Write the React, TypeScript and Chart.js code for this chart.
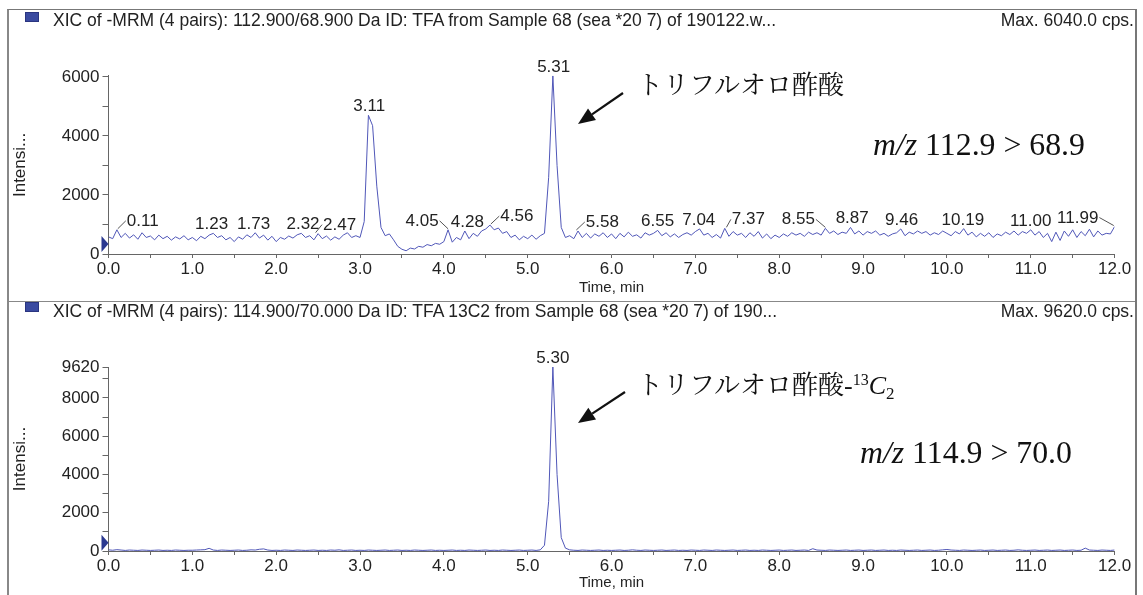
import React, { useEffect, useRef } from "react";
import { Chart, registerables } from "chart.js";

Chart.register(...registerables);

// ---------------- data ----------------
const TIME_STEP = 0.05; // min between acquired points
const X_MIN = 0;
const X_MAX = 12;

// TFA, m/z 112.9 > 68.9 (0.00 ... 12.00 min)
const tfaIntensity: number[] = [
  580, 520, 820, 560, 700, 540, 650, 500, 720, 560, 610, 480, 640, 520, 600, 470, 580, 510, 620, 480,
  560, 450, 600, 520, 640, 700, 560, 620, 480, 560, 420, 580, 500, 650, 560, 720, 540, 640, 470, 600,
  420, 560, 500, 610, 540, 650, 700, 560, 620, 480, 690, 520, 610, 470, 580, 500, 640, 720, 560, 620,
  560, 1100, 4700, 4350, 2300, 900, 620, 680, 480, 260, 160, 110, 200, 170, 260, 230, 320, 280, 360, 330,
  420, 820, 400, 560, 480, 780, 520, 700, 600, 780, 850, 980, 820, 880, 700, 760, 560, 640, 480, 600,
  520, 640, 500, 620, 700, 2600, 6040, 3000, 900, 560, 620, 520, 780, 560, 700, 540, 680, 600, 720, 560,
  680, 520, 700, 580, 740, 600, 650, 540, 720, 640, 700, 800, 620, 720, 580, 680, 560, 660, 720, 640,
  760, 850, 640, 700, 560, 660, 540, 870, 600, 760, 640, 700, 560, 720, 600, 760, 540, 680, 520, 640,
  560, 680, 600, 720, 640, 700, 600, 740, 660, 720, 640, 870, 700, 780, 660, 740, 700, 900, 680, 780,
  640, 760, 700, 780, 640, 700, 600, 680, 720, 850, 620, 740, 680, 780, 700, 760, 640, 720, 660, 780,
  700, 620, 760, 680, 860, 640, 740, 580, 700, 600, 720, 560, 680, 620, 740, 660, 780, 640, 760, 700,
  820, 640, 760, 560, 700, 420, 740, 460, 780, 600, 820, 560, 760, 620, 840, 580, 780, 640, 700, 680, 930,
];

// TFA 13C2, m/z 114.9 > 70.0 (0.00 ... 12.00 min)
const tfa13cIntensity: number[] = [
  60, 40, 70, 50, 30, 50, 40, 30, 50, 40, 30, 40, 50, 30, 40, 30, 50, 40, 30, 40,
  40, 50, 60, 70, 140, 50, 30, 50, 40, 30, 40, 50, 30, 40, 60, 50, 90, 110, 50, 30,
  40, 30, 50, 40, 30, 50, 40, 30, 40, 50, 30, 40, 30, 50, 40, 60, 30, 40, 50, 30,
  40, 30, 50, 40, 30, 40, 50, 30, 40, 50, 30, 40, 30, 50, 40, 30, 40, 50, 30, 40,
  30, 40, 50, 30, 40, 30, 50, 40, 30, 40, 50, 30, 40, 30, 50, 40, 30, 40, 50, 30,
  40, 50, 30, 60, 300, 2600, 9620, 4000, 700, 150, 60, 40, 30, 50, 40, 30, 40, 50, 30, 40,
  30, 40, 50, 30, 40, 60, 40, 30, 50, 40, 30, 40, 50, 30, 40, 50, 30, 40, 30, 50,
  40, 30, 50, 40, 30, 50, 40, 30, 40, 50, 30, 40, 50, 30, 40, 30, 50, 40, 30, 40,
  50, 30, 40, 50, 30, 40, 50, 30, 120, 50, 40, 30, 50, 40, 30, 40, 50, 30, 40, 50,
  30, 40, 50, 30, 40, 50, 30, 40, 30, 50, 40, 30, 40, 50, 30, 40, 50, 30, 40, 60,
  80, 50, 40, 30, 50, 40, 30, 40, 50, 30, 40, 50, 30, 40, 50, 30, 40, 60, 40, 30,
  40, 50, 30, 40, 50, 30, 40, 50, 30, 40, 50, 30, 40, 150, 50, 40, 30, 50, 40, 30, 50,
];

const tfaPeakTimes = [0.11, 1.23, 1.73, 2.32, 2.47, 3.11, 4.05, 4.28, 4.56, 5.31, 5.58, 6.55, 7.04, 7.37, 8.55, 8.87, 9.46, 10.19, 11.0, 11.99];
const tfa13cPeakTimes = [5.3];

const tfaYTicks = [0, 1000, 2000, 3000, 4000, 5000, 6000];
const tfaYLabels = [0, 2000, 4000, 6000];
const tfaYMax = 6040;
const tfa13cYTicks = [0, 1000, 2000, 3000, 4000, 5000, 6000, 7000, 8000, 9000, 9620];
const tfa13cYLabels = [0, 2000, 4000, 6000, 8000, 9620];
const tfa13cYMax = 9620;

const tfaMarkerValue = 340;
const tfa13cMarkerValue = 435;

// ---------------- styling ----------------
const FONT = '"Liberation Sans", Arial, Helvetica, sans-serif';
const SERIF = '"Liberation Serif", "Times New Roman", serif';
const CJK = '"Noto Serif CJK JP", "Noto Sans CJK JP", serif';
const TEXT = "#222";
const AXIS = "#666";
const LINE = "#5057b8";
const MARK = "#2b3990";

const CANVAS_LEFT = 8;
const CANVAS_W = 1127;
const AREA_LEFT = 100.5;
const AREA_RIGHT = 1106.6;

// horizontal offsets of labels that carry a leader line
const labelShift: Record<string, number> = {
  "0.11": 25, "2.47": 24, "4.05": -26, "4.56": 26, "5.58": 26, "7.37": 22, "8.55": -27, "11.99": -36,
};

Chart.defaults.font.family = FONT;

type PanelProps = {
  values: number[];
  yMax: number;
  yTicks: number[];
  yLabels: number[];
  peakTimes: number[];
  markerValue: number;
  canvasTop: number;
  canvasHeight: number;
  areaTop: number;
  areaBottom: number;
  titlePadBottom: number;
};

function Chromatogram(p: PanelProps) {
  const ref = useRef<HTMLCanvasElement>(null);
  useEffect(() => {
    const canvas = ref.current!;
    const points = p.values.map((v, i) => ({ x: i * TIME_STEP, y: v }));
    const labelPlugin = {
      id: "peakLabels",
      afterDatasetsDraw(chart: any) {
        const { ctx, chartArea } = chart;
        const xs = chart.scales.x;
        const ys = chart.scales.y;
        ctx.save();
        ctx.font = `17px ${FONT}`;
        ctx.fillStyle = TEXT;
        ctx.strokeStyle = "#555";
        ctx.lineWidth = 1;
        ctx.textAlign = "center";
        ctx.textBaseline = "alphabetic";
        for (const t of p.peakTimes) {
          const lo = Math.max(0, Math.floor(t / TIME_STEP + 1e-6));
          const hi = Math.min(p.values.length - 1, Math.ceil(t / TIME_STEP - 1e-6));
          const v = Math.max(p.values[lo], p.values[hi]);
          const px = xs.getPixelForValue(t);
          const py = ys.getPixelForValue(v);
          const text = t.toFixed(2);
          const dx = labelShift[text] || 0;
          const cx = px + dx;
          const by = py - 4;
          ctx.fillText(text, cx, by);
          if (dx) {
            const w = ctx.measureText(text).width;
            const ex = dx > 0 ? cx - w / 2 - 1 : cx + w / 2 + 1;
            ctx.beginPath();
            ctx.moveTo(px, py - 1);
            ctx.lineTo(ex, by - 5);
            ctx.stroke();
          }
        }
        // baseline marker triangle on the y axis
        const ty = ys.getPixelForValue(p.markerValue);
        const tx = chartArea.left;
        ctx.fillStyle = MARK;
        ctx.beginPath();
        ctx.moveTo(tx, ty);
        ctx.lineTo(tx - 7, ty - 8);
        ctx.lineTo(tx - 7, ty + 8);
        ctx.closePath();
        ctx.fill();
        ctx.restore();
      },
    };

    const chart = new Chart(canvas, {
      type: "line",
      data: {
        datasets: [
          {
            data: points,
            borderColor: LINE,
            borderWidth: 1,
            pointRadius: 0,
            tension: 0,
            fill: false,
          },
        ],
      },
      options: {
        animation: false,
        responsive: false,
        devicePixelRatio: 1,
        layout: { padding: { left: 0, right: CANVAS_W - AREA_RIGHT, top: p.areaTop, bottom: 0 } },
        plugins: { legend: { display: false }, tooltip: { enabled: false }, title: { display: false } },
        scales: {
          x: {
            type: "linear",
            min: X_MIN,
            max: X_MAX,
            afterFit: (s: any) => {
              s.height = p.canvasHeight - p.areaBottom;
            },
            ticks: {
              stepSize: 0.5,
              autoSkip: false,
              maxRotation: 0,
              padding: 1,
              color: TEXT,
              font: { size: 17 },
              callback: (v: any) => (Math.abs(v - Math.round(v)) < 1e-6 ? Number(v).toFixed(1) : ""),
            },
            grid: { drawOnChartArea: false, drawTicks: true, tickLength: 4, color: AXIS },
            border: { display: true, color: AXIS, width: 1 },
            title: {
              display: true,
              text: "Time, min",
              color: TEXT,
              font: { size: 15 },
              padding: { top: 0, bottom: p.titlePadBottom },
            },
          },
          y: {
            type: "linear",
            min: 0,
            max: p.yMax,
            afterBuildTicks: (s: any) => {
              s.ticks = p.yTicks.map((v) => ({ value: v }));
            },
            afterFit: (s: any) => {
              s.width = AREA_LEFT;
            },
            ticks: {
              autoSkip: false,
              padding: 3,
              color: TEXT,
              font: { size: 17 },
              callback: (v: any) => (p.yLabels.includes(Number(v)) ? String(v) : ""),
            },
            grid: { drawOnChartArea: false, drawTicks: true, tickLength: 6, color: AXIS },
            border: { display: true, color: AXIS, width: 1 },
            title: {
              display: true,
              text: "Intensi...",
              color: TEXT,
              font: { size: 17 },
              padding: { top: 1.8, bottom: 0 },
            },
          },
        },
      },
      plugins: [labelPlugin],
    } as any);
    return () => chart.destroy();
  }, []);
  return (
    <canvas
      ref={ref}
      width={CANVAS_W}
      height={p.canvasHeight}
      style={{ position: "absolute", left: CANVAS_LEFT, top: p.canvasTop, width: CANVAS_W, height: p.canvasHeight }}
    />
  );
}

function Arrow({ x1, y1, x2, y2 }: { x1: number; y1: number; x2: number; y2: number }) {
  const dx = x2 - x1;
  const dy = y2 - y1;
  const len = Math.hypot(dx, dy);
  const ux = dx / len;
  const uy = dy / len;
  const head = 17;
  const half = 7;
  const bx = x2 - ux * head;
  const by = y2 - uy * head;
  const pts = `${x2},${y2} ${bx - uy * half},${by + ux * half} ${bx + uy * half},${by - ux * half}`;
  return (
    <g>
      <line x1={x1} y1={y1} x2={bx} y2={by} stroke="#111" strokeWidth={2.2} />
      <polygon points={pts} fill="#111" />
    </g>
  );
}

const headerStyle: React.CSSProperties = {
  position: "absolute",
  font: `17.5px ${FONT}`,
  color: TEXT,
  lineHeight: "20px",
  whiteSpace: "nowrap",
};

export default function App() {
  return (
    <div
      style={{
        position: "fixed",
        left: 0,
        top: 0,
        width: 1143,
        height: 595,
        background: "#fff",
        overflow: "hidden",
      }}
    >
      {/* panel frames */}
      <div style={{ position: "absolute", left: 7, top: 9, width: 1130, height: 293, boxSizing: "border-box", borderTop: "1px solid #777", borderLeft: "2px solid #888", borderRight: "2px solid #777", borderBottom: "1px solid #888" }} />
      <div style={{ position: "absolute", left: 7, top: 301, width: 1130, height: 300, boxSizing: "border-box", borderLeft: "2px solid #888", borderRight: "2px solid #777" }} />

      <Chromatogram
        values={tfaIntensity}
        yMax={tfaYMax}
        yTicks={tfaYTicks}
        yLabels={tfaYLabels}
        peakTimes={tfaPeakTimes}
        markerValue={tfaMarkerValue}
        canvasTop={9}
        canvasHeight={292}
        areaTop={66.8}
        areaBottom={245}
        titlePadBottom={4}
      />
      <Chromatogram
        values={tfa13cIntensity}
        yMax={tfa13cYMax}
        yTicks={tfa13cYTicks}
        yLabels={tfa13cYLabels}
        peakTimes={tfa13cPeakTimes}
        markerValue={tfa13cMarkerValue}
        canvasTop={302}
        canvasHeight={293}
        areaTop={65}
        areaBottom={249}
        titlePadBottom={3}
      />

      {/* headers */}
      <div style={{ position: "absolute", left: 25, top: 12, width: 14, height: 10, background: "#3a4aa0", boxSizing: "border-box", border: "1px solid #2a3580" }} />
      <div style={{ ...headerStyle, left: 53, top: 10 }}>
        XIC of -MRM (4 pairs): 112.900/68.900 Da ID: TFA from Sample 68 (sea *20 7) of 190122.w...
      </div>
      <div style={{ ...headerStyle, right: 9, top: 10 }}>Max. 6040.0 cps.</div>

      <div style={{ position: "absolute", left: 25, top: 302, width: 14, height: 10, background: "#3a4aa0", boxSizing: "border-box", border: "1px solid #2a3580" }} />
      <div style={{ ...headerStyle, left: 53, top: 301 }}>
        XIC of -MRM (4 pairs): 114.900/70.000 Da ID: TFA 13C2 from Sample 68 (sea *20 7) of 190...
      </div>
      <div style={{ ...headerStyle, right: 9, top: 301 }}>Max. 9620.0 cps.</div>

      {/* annotations */}
      <div style={{ position: "absolute", left: 637, top: 68, font: `26px ${CJK}`, lineHeight: "30px", color: "#111", whiteSpace: "nowrap" }}>
        トリフルオロ酢酸
      </div>
      <div style={{ position: "absolute", left: 873, top: 127, font: `31.8px ${SERIF}`, lineHeight: "36px", color: "#111", whiteSpace: "nowrap" }}>
        <i>m/z</i> 112.9 &gt; 68.9
      </div>
      <div style={{ position: "absolute", left: 637, top: 368, font: `26px ${CJK}`, lineHeight: "30px", color: "#111", whiteSpace: "nowrap" }}>
        トリフルオロ酢酸
        <span style={{ fontFamily: SERIF }}>
          -<sup style={{ fontSize: 16, verticalAlign: "9px", lineHeight: 0 }}>13</sup>
          <i>C</i>
          <sub style={{ fontSize: 17, verticalAlign: "-5px", lineHeight: 0 }}>2</sub>
        </span>
      </div>
      <div style={{ position: "absolute", left: 860, top: 435, font: `31.8px ${SERIF}`, lineHeight: "36px", color: "#111", whiteSpace: "nowrap" }}>
        <i>m/z</i> 114.9 &gt; 70.0
      </div>

      <svg width={1143} height={595} style={{ position: "absolute", left: 0, top: 0, pointerEvents: "none" }}>
        <Arrow x1={623} y1={93} x2={578} y2={124} />
        <Arrow x1={625} y1={392} x2={578} y2={423} />
      </svg>
    </div>
  );
}
